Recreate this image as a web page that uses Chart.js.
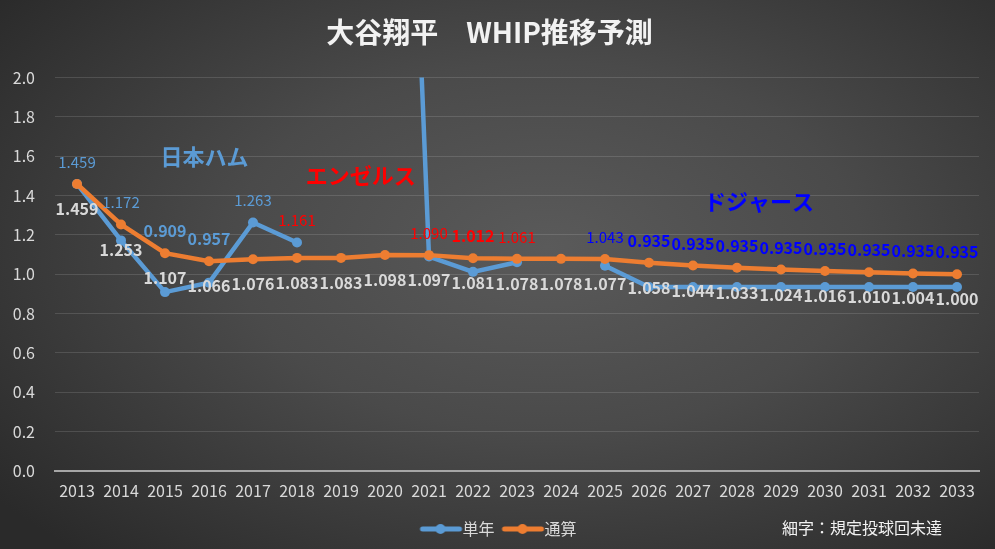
<!DOCTYPE html>
<html lang="ja">
<head>
<meta charset="utf-8">
<title>大谷翔平 WHIP推移予測</title>
<script src="https://cdn.jsdelivr.net/npm/chart.js@4.4.1/dist/chart.umd.min.js"></script>
<style>
    html, body { margin: 0; padding: 0; }
    body {
        width: 995px;
        height: 549px;
        overflow: hidden;
        background: radial-gradient(ellipse 70% 75% at 55% 45%, #5a5a5a 0%, #4a4a4a 45%, #2a2a2a 100%);
    }
    .chart-box { position: relative; width: 995px; height: 549px; }
</style>
</head>
<body>
<div class="chart-box">
    <canvas id="chartWhip"></canvas>
</div>
<script>
/************** データ ************/

// 年度
const years = ['2013', '2014', '2015', '2016', '2017', '2018', '2019', '2020', '2021', '2022',
    '2023', '2024', '2025', '2026', '2027', '2028', '2029', '2030', '2031', '2032', '2033'];

// 単年 WHIP (2019, 2024 は登板なし / 2020 はグラフ外)
const singleWhip = [1.459, 1.172, 0.909, 0.957, 1.263, 1.161, null, 6.600, 1.090, 1.012,
    1.061, null, 1.043, 0.935, 0.935, 0.935, 0.935, 0.935, 0.935, 0.935, 0.935];

// 通算 WHIP
const totalWhip = [1.459, 1.253, 1.107, 1.066, 1.076, 1.083, 1.083, 1.098, 1.097, 1.081,
    1.078, 1.078, 1.077, 1.058, 1.044, 1.033, 1.024, 1.016, 1.010, 1.004, 1.000];

// 規定投球回到達 (太字)
const qualified = [false, false, true, true, false, false, false, false, false, true,
    false, false, false, true, true, true, true, true, true, true, true];

// 所属球団 (0:日本ハム 1:エンゼルス 2:ドジャース)
const teamOf = [0, 0, 0, 0, 0, 1, 1, 1, 1, 1, 1, 2, 2, 2, 2, 2, 2, 2, 2, 2, 2];
const teamNames = ['日本ハム', 'エンゼルス', 'ドジャース'];

// y軸
const yMin = 0;
const yMax = 2.0;
const yStep = 0.2;

/************** スタイル ************/
const FONT = '"Noto Sans CJK JP", "Noto Sans", sans-serif';
const BLUE = '#5B9BD5';
const ORANGE = '#ED7D31';
const teamColors = ['#5B9BD5', '#FF0000', '#0000FF'];
// 球団名の表示位置 (カテゴリ index, y値)
const teamLabelPos = [[2.9, 1.60], [6.45, 1.50], [15.5, 1.37]];

// 凡例アイコン (線 + 点) : 文字のすぐ左に来るよう右寄せで描く
function legendIcon(color) {
    const c = document.createElement('canvas');
    c.width = 48; c.height = 12;
    const g = c.getContext('2d');
    g.strokeStyle = color;
    g.lineWidth = 5;
    g.lineCap = 'round';
    g.beginPath(); g.moveTo(7, 6); g.lineTo(44, 6); g.stroke();
    g.fillStyle = color;
    g.beginPath(); g.arc(25, 6, 5, 0, Math.PI * 2); g.fill();
    return c;
}

// データラベル + 球団名 + 注記
const labelPlugin = {
    id: 'whipLabels',
    afterLayout(chart) {
        // 凡例を少し右へ (元グラフに合わせる)
        chart.legend.left += 11;
        chart.legend.right += 11;
    },
    afterDatasetsDraw(chart) {
        const ctx = chart.ctx;
        const xs = chart.scales.x;
        const ys = chart.scales.y;
        ctx.save();
        ctx.textAlign = 'center';
        ctx.textBaseline = 'middle';

        years.forEach((yr, i) => {
            const px = xs.getPixelForValue(i);
            const pyTotal = ys.getPixelForValue(totalWhip[i]);

            // 通算 : 下
            ctx.font = 'bold 16px ' + FONT;
            ctx.fillStyle = '#d9d9d9';
            ctx.fillText(totalWhip[i].toFixed(3), px, pyTotal + 25);

            // 単年 : 上
            const v = singleWhip[i];
            if (v === null || v > yMax) return;
            const top = Math.min(ys.getPixelForValue(v), pyTotal);
            ctx.font = (qualified[i] ? 'bold 16px ' : '15px ') + FONT;
            ctx.fillStyle = teamColors[teamOf[i]];
            ctx.fillText(v.toFixed(3), px, top - 22);
        });

        // 球団名
        ctx.font = 'bold 22px ' + FONT;
        teamNames.forEach((name, t) => {
            ctx.fillStyle = teamColors[t];
            ctx.fillText(name, xs.getPixelForValue(teamLabelPos[t][0]), ys.getPixelForValue(teamLabelPos[t][1]));
        });

        // 注記
        ctx.textAlign = 'left';
        ctx.font = '16px ' + FONT;
        ctx.fillStyle = '#f2f2f2';
        ctx.fillText('細字：規定投球回未達', 782, 528);
        ctx.restore();
    }
};

function drawChart() {
    const ctx = document.getElementById('chartWhip');
    const icons = [legendIcon(BLUE), legendIcon(ORANGE)];

    new Chart(ctx, {
        type: 'line',
        data: {
            labels: years,
            datasets: [
                {
                    label: '単年',
                    data: singleWhip,
                    borderColor: BLUE,
                    backgroundColor: BLUE,
                    borderWidth: 4.5,
                    pointRadius: 5,
                    pointBorderWidth: 0,
                    spanGaps: false,
                    order: 2
                }, {
                    label: '通算',
                    data: totalWhip,
                    borderColor: ORANGE,
                    backgroundColor: ORANGE,
                    borderWidth: 4.5,
                    pointRadius: 5,
                    pointBorderWidth: 0,
                    order: 1
                }
            ]
        },
        options: {
            responsive: true,
            maintainAspectRatio: false,
            animation: false,
            events: [],
            layout: { padding: { left: 0, right: 16, top: 0, bottom: 2 } },
            plugins: {
                title: {
                    display: true,
                    text: '大谷翔平　WHIP推移予測',
                    color: '#f2f2f2',
                    font: { family: FONT, size: 28, weight: 'bold' },
                    padding: { top: 16, bottom: 28 }
                },
                legend: {
                    position: 'bottom',
                    labels: {
                        color: '#d9d9d9',
                        font: { family: FONT, size: 16 },
                        usePointStyle: true,
                        pointStyleWidth: 30,
                        padding: 12,
                        generateLabels: () => ['単年', '通算'].map((text, i) => ({
                            text: text,
                            pointStyle: icons[i],
                            fontColor: '#d9d9d9',
                            datasetIndex: i,
                            hidden: false,
                            lineWidth: 0
                        }))
                    }
                },
                tooltip: { enabled: false }
            },
            scales: {
                x: {
                    offset: true,
                    afterFit(scale) { scale.height += 5; },
                    grid: { display: false, offset: true },
                    border: { display: true, color: '#a6a6a6', width: 2 },
                    ticks: {
                        color: '#d9d9d9',
                        font: { family: FONT, size: 16 },
                        maxRotation: 0,
                        autoSkip: false,
                        padding: 3
                    }
                },
                y: {
                    min: yMin,
                    max: yMax,
                    afterFit(scale) { scale.width = 55; },
                    grid: { color: 'rgba(255,255,255,0.13)', lineWidth: 1, drawTicks: false },
                    border: { display: false },
                    ticks: {
                        stepSize: yStep,
                        color: '#d9d9d9',
                        font: { family: FONT, size: 16 },
                        padding: 20,
                        callback: (v) => v.toFixed(1)
                    }
                }
            }
        },
        plugins: [labelPlugin]
    });
}

window.addEventListener('DOMContentLoaded', function() {
    drawChart();
});
</script>
</body>
</html>
